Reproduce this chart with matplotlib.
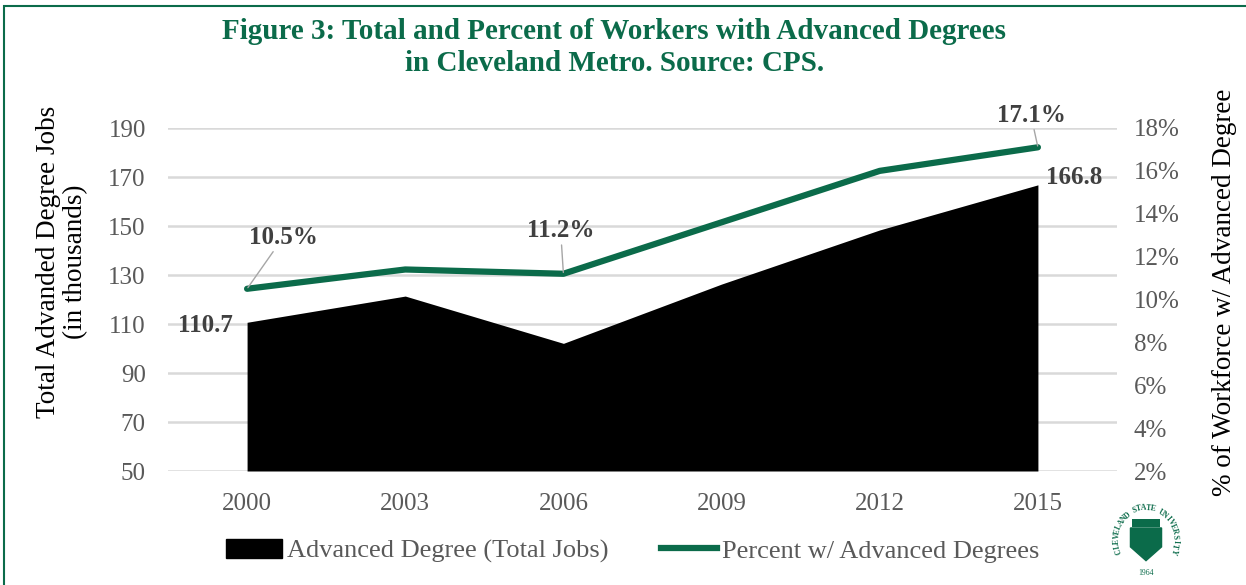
import numpy as np
import matplotlib
matplotlib.use("Agg")
from matplotlib import pyplot as plt
from matplotlib.patches import Rectangle, Polygon
from matplotlib.lines import Line2D

# data
years = ["2000", "2003", "2006", "2009", "2012", "2015"]
total_jobs = [110.7, 121.4, 102.1, 126.3, 148.4, 166.8]
pct_adv = [10.5, 11.4, 11.2, 13.6, 16.0, 17.1]

green = "#0b6b4a"
gray = "#595959"
plt.rcParams['font.family'] = ['Liberation Serif', 'DejaVu Serif']

fig = plt.figure(figsize=(12.46, 5.85), dpi=100)
ax = fig.add_axes([168/1246, 1-471/585, (1117-168)/1246, (471-128)/585])
x = np.arange(len(years))

ax.fill_between(x, 50, total_jobs, color="black", lw=0, zorder=2)
ax.set_xlim(-0.5, 5.5)
ax.set_ylim(50, 190)
ax.set_yticks(range(50, 191, 20))
ax.set_xticks(x)
ax.set_xticklabels(years)
ax.grid(axis="y", color="#d9d9d9", lw=1.8, zorder=0)
ax.set_axisbelow(True)
for s in ax.spines.values():
    s.set_visible(False)
ax.tick_params(length=0, labelsize=18, labelcolor=gray)
ax.tick_params(axis="y", pad=16)
ax.tick_params(axis="x", pad=16)
ax.set_ylabel("Total Advanded Degree Jobs\n(in thousands)", fontsize=19.5, linespacing=1.1)
ax.yaxis.set_label_coords(-0.084, 0.61)

ax2 = ax.twinx()
ax2.plot(x, pct_adv, color=green, lw=4.5, solid_capstyle="round", zorder=3)
ax2.set_ylim(2, 18)
ax2.set_yticks(range(2, 19, 2))
ax2.set_yticklabels([f"{v}%" for v in range(2, 19, 2)])
for s in ax2.spines.values():
    s.set_visible(False)
ax2.tick_params(length=0, labelsize=18, labelcolor=gray, pad=12)
ax2.set_ylabel("% of Workforce w/ Advanced Degree", fontsize=19.5)
ax2.yaxis.set_label_coords(1.1, 0.52)

lab = dict(fontsize=18, fontweight="bold", color="#404040")
ax.annotate(f"{total_jobs[0]}", (x[0], total_jobs[0]), xytext=(-10, -2),
            textcoords="offset points", ha="right", va="center", **lab)
ax.annotate(f"{total_jobs[-1]}", (x[-1], total_jobs[-1]), xytext=(6, 5),
            textcoords="offset points", ha="left", va="center", **lab)
leader = dict(arrowstyle="-", color="#a6a6a6", lw=1, shrinkA=0, shrinkB=1)
ax2.annotate(f"{pct_adv[0]}%", (x[0], pct_adv[0]), xytext=(26, 37),
             textcoords="offset points", ha="center", va="center",
             arrowprops=leader, **lab)
ax2.annotate(f"{pct_adv[2]}%", (x[2], pct_adv[2]), xytext=(-2, 31),
             textcoords="offset points", ha="center", va="center",
             arrowprops=leader, **lab)
ax2.annotate(f"{pct_adv[5]}%", (x[5], pct_adv[5]), xytext=(-5, 23),
             textcoords="offset points", ha="center", va="center",
             arrowprops=leader, **lab)

fig.text(0.493, 0.946, "Figure 3: Total and Percent of Workers with Advanced Degrees",
         ha="center", va="center", fontsize=21, fontweight="bold", color=green)
fig.text(0.493, 0.892, "in Cleveland Metro. Source: CPS.",
         ha="center", va="center", fontsize=21, fontweight="bold", color=green)

handles = [Rectangle((0, 0), 1, 1, color="black"),
           Line2D([], [], color=green, lw=4.5)]
fig.legend(handles, ["Advanced Degree (Total Jobs)", "Percent w/ Advanced Degrees"],
           loc="center", bbox_to_anchor=(0.508, 1-551/585), ncol=2, frameon=False,
           fontsize=19, labelcolor=gray, handlelength=2.1, handletextpad=0.2,
           columnspacing=2.0)

# border
fig.patches.append(Rectangle((4/1246, -0.05), 1.2, 1.05-6/585, transform=fig.transFigure,
                             fill=False, edgecolor=green, lw=1.5))

# simplified university seal
lax = fig.add_axes([1108/1246, 1-583/585, 76/1246, 86/585])
lax.set_xlim(-1.1, 1.1)
lax.set_ylim(-1.25, 1.25)
lax.axis("off")
lax.add_patch(Polygon([(-0.45, 0.35), (0.45, 0.35), (0.45, -0.2), (0, -0.6), (-0.45, -0.2)],
                      closed=True, facecolor=green, edgecolor=green))
lax.add_patch(Rectangle((-0.4, 0.38), 0.8, 0.22, facecolor=green))
seal_txt = "CLEVELAND STATE UNIVERSITY"
angs = np.linspace(200, -20, len(seal_txt))
for ch, a in zip(seal_txt, angs):
    r = 0.85
    lax.text(r*np.cos(np.radians(a)), r*np.sin(np.radians(a))*1.1, ch, fontsize=5.5,
             color=green, ha="center", va="center", rotation=a-90, fontweight="bold")
lax.text(0, -0.95, "1964", fontsize=5.5, color=green, ha="center", va="center")

fig.savefig("out.png", dpi=100)
